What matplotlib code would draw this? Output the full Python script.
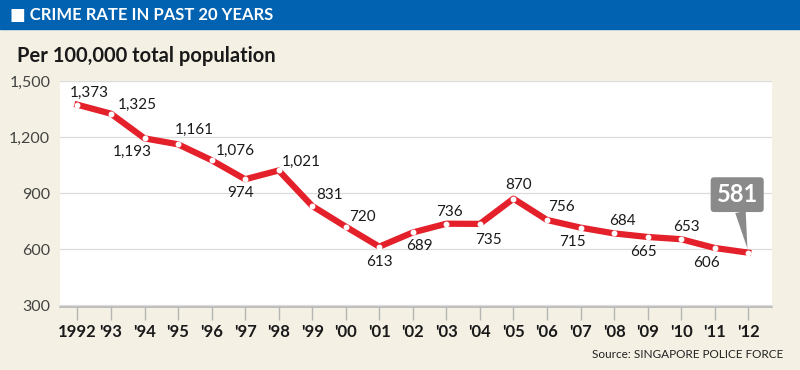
import matplotlib.pyplot as plt
from matplotlib.patches import Rectangle

plt.rcParams['font.family'] = ['Lato', 'DejaVu Sans']

years = list(range(1992, 2013))
tick_labels = ["1992", "'93", "'94", "'95", "'96", "'97", "'98", "'99", "'00", "'01",
               "'02", "'03", "'04", "'05", "'06", "'07", "'08", "'09", "'10", "'11", "'12"]
rates = [1373, 1325, 1193, 1161, 1076, 974, 1021, 831, 720, 613,
         689, 736, 735, 870, 756, 715, 684, 665, 653, 606, 581]

# label offsets in pixels (dx, dy) from each point
offsets = [(12, 12), (26, 9), (-12, -14), (16, 14), (24, 9), (-5, -14), (23, 9),
           (17, 11), (17, 10), (0, -15), (7, -14), (3, 12), (9, -16), (5, 14),
           (14, 13), (-8, -14), (8, 12), (-4, -15), (5, 12), (-8, -15)]

px = 0.72  # points per pixel at dpi 100
red = "#e4202a"
bg = "#f4f0e4"

fig = plt.figure(figsize=(8, 3.7), dpi=100, facecolor=bg)

# header band
fig.patches.append(Rectangle((0, 1 - 29 / 370), 1, 29 / 370, transform=fig.transFigure,
                             color="#0062b0", zorder=0))
fig.text(10 / 800, 1 - 15 / 370, "\u25a0 CRIME RATE IN PAST 20 YEARS", color="white",
         fontsize=12, fontweight="bold", va="center", ha="left")
fig.text(17 / 800, 1 - 56 / 370, "Per 100,000 total population", color="#1a1a1a",
         fontsize=14.5, fontweight="bold", va="center", ha="left")
fig.text(783 / 800, 1 - 355 / 370, "Source: SINGAPORE POLICE FORCE", color="#222222",
         fontsize=8.5, va="center", ha="right")

ax = fig.add_axes([60 / 800, 1 - 307 / 370, 712 / 800, 226 / 370])
ax.set_facecolor("white")
ax.set_xlim(1991.48, 2012.71)
ax.set_ylim(290, 1500)
ax.set_yticks([300, 600, 900, 1200, 1500])
ax.set_yticklabels(["300", "600", "900", "1,200", "1,500"])
ax.set_xticks(years)
ax.set_xticklabels(tick_labels)
ax.grid(axis="y", color="#dcdcdc", lw=0.9)
ax.set_axisbelow(True)
for s in ["top", "right", "left"]:
    ax.spines[s].set_visible(False)
ax.spines["bottom"].set_color("#b5b5b5")
ax.spines["bottom"].set_linewidth(1.2)
ax.tick_params(axis="y", length=0, pad=7, labelsize=11.5, labelcolor="#444444")
ax.tick_params(axis="x", length=9, width=1, color="#b5b5b5", pad=3, labelsize=12)
for t in ax.get_xticklabels():
    t.set_fontweight("bold")
    t.set_color("#1a1a1a")

ax.plot(years, rates, color=red, lw=4.5, solid_joinstyle="round", zorder=3)
ax.plot(years, rates, "o", ms=3.2, mfc="white", mec="white", zorder=4)

for yr, v, (dx, dy) in zip(years[:-1], rates[:-1], offsets):
    ax.annotate(f"{v:,}", xy=(yr, v), xytext=(dx * px, dy * px), textcoords="offset points",
                ha="center", va="center", fontsize=11, color="#1a1a1a")

ax.annotate(f"{rates[-1]:,}", xy=(years[-1], rates[-1]), xytext=(-11 * px, 58 * px),
            textcoords="offset points", ha="center", va="center", fontsize=17,
            fontweight="bold", color="white",
            bbox=dict(boxstyle="round,pad=0.25,rounding_size=0.15", fc="#8a8a8a", ec="none"),
            arrowprops=dict(arrowstyle="wedge,tail_width=0.45", fc="#8a8a8a", ec="none",
                            shrinkA=0, shrinkB=3))

fig.savefig("out.png", dpi=100, facecolor=bg)
